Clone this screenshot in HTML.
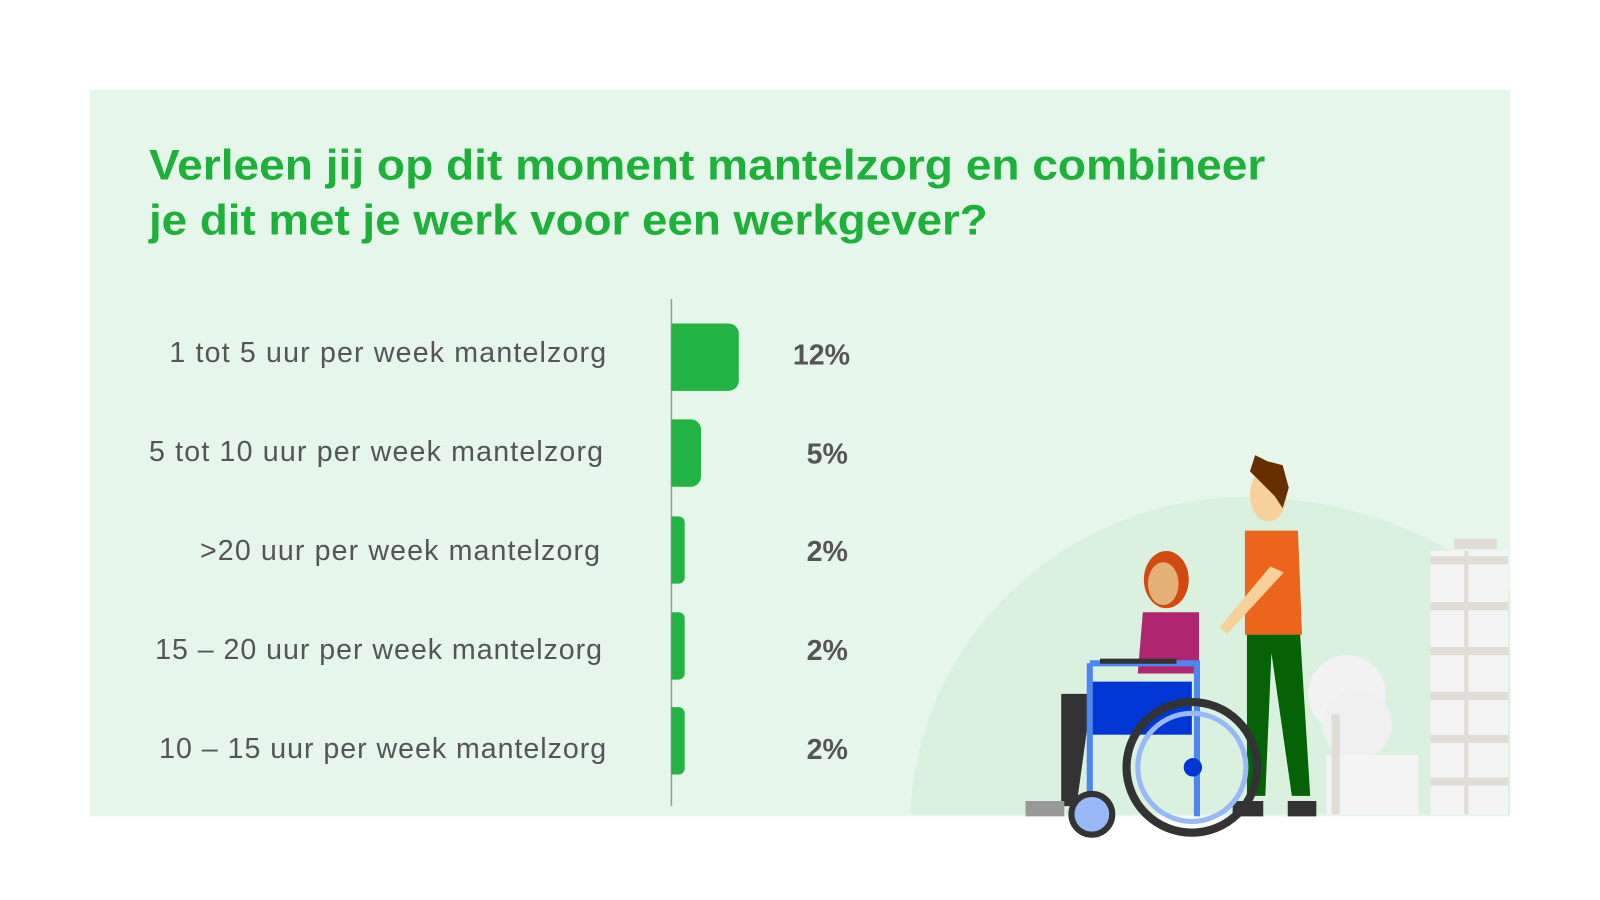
<!DOCTYPE html>
<html><head><meta charset="utf-8"><style>
html,body{margin:0;padding:0;background:#fff;width:1600px;height:900px;overflow:hidden}
svg{display:block}
</style></head><body>
<svg width="1600" height="900" viewBox="0 0 1568 882" preserveAspectRatio="none" xmlns="http://www.w3.org/2000/svg">
<rect x="88" y="88" width="1392" height="712" fill="#e6f6eb"/>
<text font-family="Liberation Sans, sans-serif" font-weight="bold" font-size="42" fill="#1db13a">
<tspan x="146" y="176" textLength="1094" lengthAdjust="spacingAndGlyphs">Verleen jij op dit moment mantelzorg en combineer</tspan>
<tspan x="146" y="230" textLength="822" lengthAdjust="spacingAndGlyphs">je dit met je werk voor een werkgever?</tspan></text>
<line x1="658" y1="293" x2="658" y2="790" stroke="#9a9a9a" stroke-width="1.5"/>
<g fill="#22b443">
<path d="M658 317h56a10 10 0 0 1 10 10v46a10 10 0 0 1-10 10h-56z"/>
<path d="M658 411h19a10 10 0 0 1 10 10v46a10 10 0 0 1-10 10h-19z"/>
<path d="M658 506h7a6 6 0 0 1 6 6v54a6 6 0 0 1-6 6h-7z"/>
<path d="M658 600h7a6 6 0 0 1 6 6v54a6 6 0 0 1-6 6h-7z"/>
<path d="M658 693h7a6 6 0 0 1 6 6v54a6 6 0 0 1-6 6h-7z"/>
</g>
<g font-family="Liberation Sans, sans-serif" font-size="28" fill="#555" lengthAdjust="spacingAndGlyphs">
<text x="166" y="355" textLength="428">1 tot 5 uur per week mantelzorg</text>
<text x="146" y="452" textLength="445">5 tot 10 uur per week mantelzorg</text>
<text x="196" y="549" textLength="392">&gt;20 uur per week mantelzorg</text>
<text x="152" y="646" textLength="438">15 – 20 uur per week mantelzorg</text>
<text x="156" y="743" textLength="438">10 – 15 uur per week mantelzorg</text>
</g>
<g font-family="Liberation Sans, sans-serif" font-size="28" font-weight="bold" fill="#555" text-anchor="end">
<text x="833" y="357">12%</text>
<text x="831" y="454">5%</text>
<text x="831" y="550">2%</text>
<text x="831" y="647">2%</text>
<text x="831" y="744">2%</text>
</g>
<!-- illustration -->
<path d="M892 798 C900 620 1050 487 1220 487 C1330 487 1420 530 1480 580 V798Z" fill="#daf1e0"/>
<g fill="#f4f4f4"><rect x="1402" y="540" width="76" height="258"/></g>
<g fill="#e0ddd6"><rect x="1402" y="545" width="76" height="8"/><rect x="1402" y="590" width="76" height="8"/><rect x="1402" y="634" width="76" height="8"/><rect x="1402" y="678" width="76" height="8"/><rect x="1402" y="720" width="76" height="8"/><rect x="1402" y="762" width="76" height="8"/><rect x="1435" y="540" width="4" height="258"/><rect x="1425" y="528" width="42" height="10"/></g>
<circle cx="1320" cy="680" r="38" fill="#f2f2f2"/><circle cx="1330" cy="710" r="34" fill="#f0f0f0"/>
<rect x="1300" y="740" width="90" height="58" fill="#f4f4f4"/>
<rect x="1305" y="700" width="8" height="98" fill="#e0ddd6"/>
<!-- man -->
<path d="M1222 620h52l10 160h-18l-20-140-6 140h-18z" fill="#056205"/>
<path d="M1208 785h30v15h-30z M1262 785h28v15h-28z" fill="#333"/>
<path d="M1220 520h52l4 102h-56z" fill="#ec651b"/>
<ellipse cx="1243" cy="485" rx="18" ry="26" fill="#f8d19a"/>
<path d="M1225 462l5-16 12 6 15 4 6 22-6 20-8-12z" fill="#672e00"/>
<path d="M1245 555l-50 60 8 6 55-60z" fill="#f8d19a"/>
<!-- woman -->
<path d="M1120 600h55v60h-60z" fill="#b0256f"/>
<ellipse cx="1143" cy="568" rx="22" ry="28" fill="#d24a0f"/>
<ellipse cx="1140" cy="572" rx="15" ry="21" fill="#e3b077"/>
<path d="M1040 680h30l-15 110h-15z" fill="#333"/>
<path d="M1005 785h38v15h-38z" fill="#999"/>
<!-- wheelchair -->
<rect x="1068" y="668" width="100" height="52" fill="#0036d3"/>
<path d="M1068 650h105v150" fill="none" stroke="#4c86f0" stroke-width="6"/>
<path d="M1068 650v150" stroke="#4c86f0" stroke-width="6"/>
<path d="M1078 648h75" stroke="#333" stroke-width="5"/>
<circle cx="1168" cy="752" r="64" fill="none" stroke="#333" stroke-width="8"/>
<circle cx="1168" cy="752" r="53" fill="none" stroke="#98b8f8" stroke-width="5"/>
<circle cx="1169" cy="752" r="9" fill="#0036d3"/>
<circle cx="1070" cy="798" r="20" fill="#98b8f8" stroke="#333" stroke-width="6"/>
</svg>
</body></html>
